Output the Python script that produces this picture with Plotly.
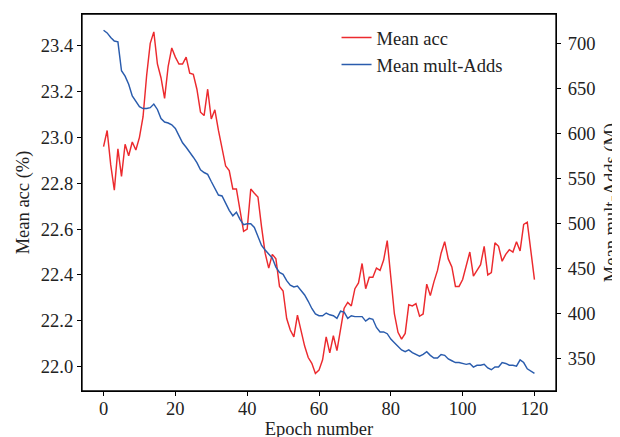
import plotly.graph_objects as go

epochs = list(range(121))

mean_acc = [
    22.96, 23.03, 22.88, 22.77, 22.95, 22.83, 22.97, 22.92, 22.98, 22.945,
    23.00, 23.09, 23.27, 23.41, 23.46, 23.32, 23.26, 23.17, 23.31, 23.39,
    23.35, 23.32, 23.32, 23.35, 23.28, 23.275, 23.21, 23.11, 23.095, 23.21,
    23.08, 23.12, 23.03, 22.95, 22.875, 22.855, 22.775, 22.775, 22.68, 22.59,
    22.60, 22.775, 22.756, 22.74, 22.61, 22.495, 22.43, 22.49, 22.47, 22.35,
    22.33, 22.21, 22.16, 22.13, 22.225, 22.16, 22.09, 22.04, 22.015, 21.97,
    21.985, 22.03, 22.13, 22.06, 22.135, 22.07, 22.16, 22.255, 22.28, 22.265,
    22.34, 22.365, 22.45, 22.34, 22.39, 22.39, 22.43, 22.42, 22.465, 22.55,
    22.39, 22.23, 22.15, 22.12, 22.145, 22.27, 22.265, 22.275, 22.22, 22.23,
    22.36, 22.31, 22.37, 22.42, 22.495, 22.545, 22.47, 22.435, 22.35, 22.35,
    22.38, 22.435, 22.50, 22.395, 22.42, 22.445, 22.525, 22.40, 22.41, 22.54,
    22.525, 22.46, 22.49, 22.51, 22.50, 22.545, 22.505, 22.62, 22.63, 22.495,
    22.38,
]

mean_madds = [
    715, 712, 707, 703, 702, 670, 664, 655, 642, 636,
    630, 628, 628, 629, 633, 627, 617, 613, 612, 610,
    606, 598, 590, 585, 580, 574, 568, 560, 557, 555,
    547, 540, 532, 531, 523, 515, 509, 513, 505, 499,
    500, 500, 496, 485, 476, 471, 467, 462, 452, 446,
    444, 437, 432, 430, 431, 426, 421, 414, 406, 400,
    398, 398, 401, 399, 398, 395, 403, 402, 395, 398,
    397, 397, 397, 392, 395, 394, 385, 380, 380, 378,
    372, 368, 364, 360, 358, 360, 357, 355, 353, 355,
    358, 354, 351, 351, 355, 354, 350, 348, 346, 346,
    345, 344, 345, 341, 343, 343, 344, 340, 338, 341,
    341, 346, 345, 343, 343, 342, 349, 346, 339, 336,
    334,
]

x_ticks = [0, 20, 40, 60, 80, 100, 120]
acc_ticks = [22.0, 22.2, 22.4, 22.6, 22.8, 23.0, 23.2, 23.4]
madds_ticks = [350, 400, 450, 500, 550, 600, 650, 700]

FONT = "Liberation Serif, Times New Roman, serif"
TXT = "#222222"
FS = 18.5

fig = go.Figure()
fig.add_trace(go.Scatter(
    x=epochs, y=mean_acc, name="Mean acc", mode="lines",
    line=dict(color="#ec2a2e", width=1.45), yaxis="y"))
fig.add_trace(go.Scatter(
    x=epochs, y=mean_madds, name="Mean mult-Adds", mode="lines",
    line=dict(color="#2a5cad", width=1.45), yaxis="y2"))

axis_common = dict(
    showline=True, linecolor="#000000", linewidth=1.3,
    ticks="outside", ticklen=4, tickwidth=1, tickcolor="#000000",
    showgrid=False, zeroline=False, automargin=False,
    tickfont=dict(family=FONT, size=FS, color=TXT),
)

fig.update_layout(
    width=620, height=437,
    margin=dict(l=74, r=72, t=6, b=54),
    paper_bgcolor="white", plot_bgcolor="white",
    font=dict(family=FONT, size=FS, color=TXT),
    xaxis=dict(
        range=[-6, 126], tickvals=x_ticks, mirror=True,
        ticklabelstandoff=-3,
        title=dict(text="Epoch number", font=dict(family=FONT, size=FS, color=TXT), standoff=3),
        **axis_common),
    yaxis=dict(
        range=[21.894, 23.538], tickvals=acc_ticks, tickformat=".1f",
        title=dict(text="Mean acc (%)", font=dict(family=FONT, size=FS, color=TXT), standoff=6),
        **axis_common),
    yaxis2=dict(
        range=[314.4, 733.0], tickvals=madds_ticks, overlaying="y", side="right",
        ticklabelstandoff=3,
        title=dict(text="Mean mult-Adds (M)", font=dict(family=FONT, size=FS, color=TXT), standoff=9),
        **axis_common),
    legend=dict(
        x=0.537, y=0.987, xanchor="left", yanchor="top",
        bgcolor="rgba(255,255,255,0)", borderwidth=0,
        font=dict(family=FONT, size=FS, color=TXT),
        itemwidth=30,
    ),
    shapes=[dict(type="rect", xref="paper", yref="paper", x0=0, x1=1, y0=0, y1=1,
                 line=dict(color="#000000", width=1.3), layer="above")],
    showlegend=True,
)

fig.write_html("out.html")
